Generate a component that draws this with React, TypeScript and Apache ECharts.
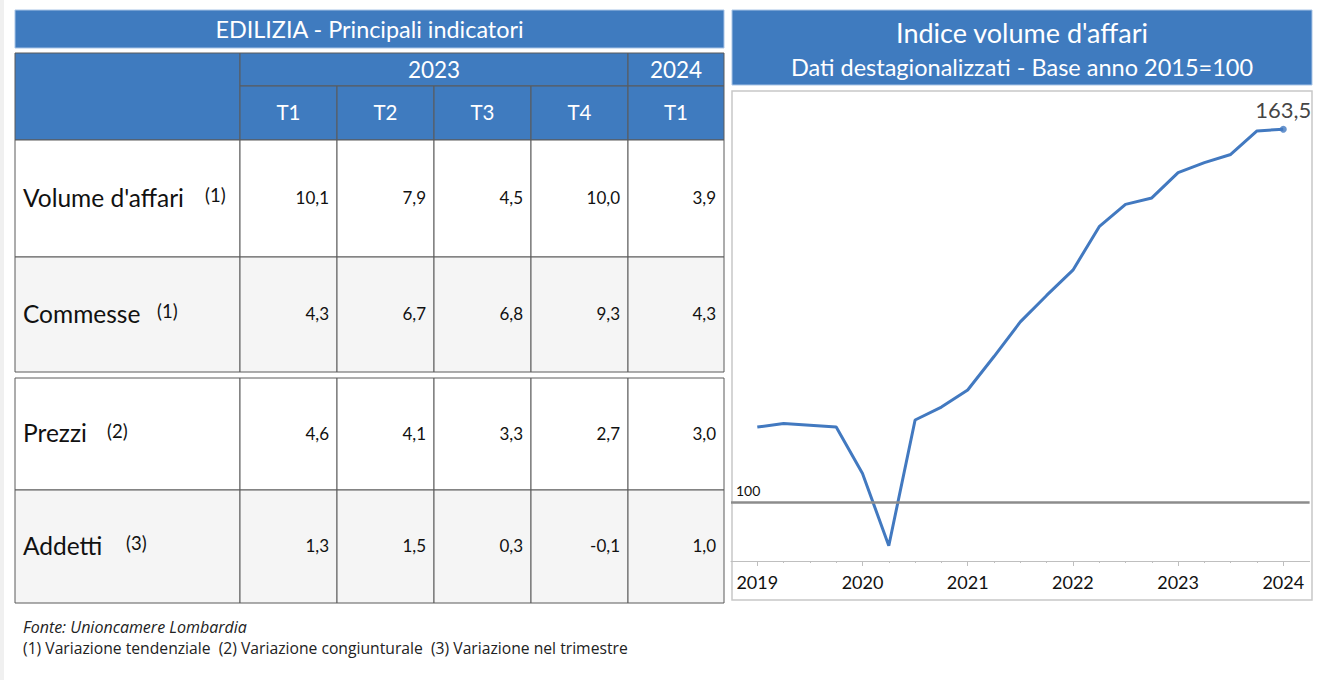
import React, { useEffect, useRef } from "react";
import * as echarts from "echarts";

// ---------- data ----------
const tableTitle = "EDILIZIA - Principali indicatori";
const yearHeaders = ["2023", "2024"];
const quarterHeaders = ["T1", "T2", "T3", "T4", "T1"];
const rowLabels = ["Volume d'affari", "Commesse", "Prezzi", "Addetti"];
const rowNotes = ["(1)", "(1)", "(2)", "(3)"];
const volumeAffari = [10.1, 7.9, 4.5, 10.0, 3.9];
const commesse = [4.3, 6.7, 6.8, 9.3, 4.3];
const prezzi = [4.6, 4.1, 3.3, 2.7, 3.0];
const addetti = [1.3, 1.5, 0.3, -0.1, 1.0];
const footSource = "Fonte: Unioncamere Lombardia";
const footNotes =
  "(1) Variazione tendenziale  (2) Variazione congiunturale  (3) Variazione nel trimestre";

const chartTitle = "Indice volume d'affari";
const chartSubtitle = "Dati destagionalizzati - Base anno 2015=100";
const yearTicks = ["2019", "2020", "2021", "2022", "2023", "2024"];
// quarterly index, 2019 T1 .. 2024 T1
const indexValues = [
  112.8, 113.4, 113.1, 112.8, 104.9, 92.6, 114.0, 116.2, 119.1, 124.8, 130.7,
  135.2, 139.5, 146.9, 150.7, 151.8, 156.1, 157.8, 159.2, 163.2, 163.5,
];
const baseValue = 100;

// ---------- layout ----------
const FONT = "Lato, 'Noto Sans', sans-serif";
const FONT2 = "'Open Sans', 'Noto Sans', sans-serif";
const BLUE = "#3f7bbf";
const GRID_LINE = "#5a5a5a";
const colX = [240, 337, 434, 531, 628, 724];
const tableLeft = 15;
const rowsY = [
  [140, 257],
  [257, 372],
  [378, 490],
  [490, 603],
];
const rowFill = ["#ffffff", "#f5f5f5", "#ffffff", "#f5f5f5"];
const noteX = [205, 157, 107, 126];

const fmt = (v: number) => v.toFixed(1).replace(".", ",");

function rect(x: number, y: number, w: number, h: number, fill: string, stroke: string | null, lw = 1) {
  return {
    type: "rect",
    silent: true,
    z: 0,
    shape: { x, y, width: w, height: h },
    style: { fill, stroke: stroke || undefined, lineWidth: stroke ? lw : 0 },
  };
}
function text(x: number, y: number, t: string, size: number, color: string, align = "left", extra: any = {}) {
  return {
    type: "text",
    silent: true,
    z: 1,
    x,
    y,
    style: {
      text: t,
      fill: color,
      fontSize: size,
      fontFamily: FONT,
      align,
      verticalAlign: "middle",
      ...extra,
    },
  };
}

function buildGraphic() {
  const g: any[] = [];
  const tableRight = colX[colX.length - 1];
  // left page strip
  g.push(rect(0, 0, 4, 680, "#f0f0f0", null));
  // table title
  g.push(rect(tableLeft, 10, tableRight - tableLeft, 38, BLUE, "#a9c5e6", 1));
  g.push(text((tableLeft + tableRight) / 2, 29, tableTitle, 23.4, "#ffffff", "center"));
  // header
  g.push(rect(tableLeft, 53, colX[0] - tableLeft, 87, BLUE, GRID_LINE, 1));
  g.push(rect(colX[0], 53, colX[4] - colX[0], 33, BLUE, GRID_LINE, 1));
  g.push(rect(colX[4], 53, colX[5] - colX[4], 33, BLUE, GRID_LINE, 1));
  g.push(text((colX[0] + colX[4]) / 2, 69.5, yearHeaders[0], 22.5, "#ffffff", "center"));
  g.push(text((colX[4] + colX[5]) / 2, 69.5, yearHeaders[1], 22.5, "#ffffff", "center"));
  quarterHeaders.forEach((q, i) => {
    g.push(rect(colX[i], 86, colX[i + 1] - colX[i], 54, BLUE, GRID_LINE, 1));
    g.push(text((colX[i] + colX[i + 1]) / 2, 112, q, 20.5, "#ffffff", "center"));
  });
  // body
  const rows = [volumeAffari, commesse, prezzi, addetti];
  rows.forEach((vals, r) => {
    const [y0, y1] = rowsY[r];
    const cy = (y0 + y1) / 2 - 1.5;
    g.push(rect(tableLeft, y0, colX[0] - tableLeft, y1 - y0, rowFill[r], GRID_LINE, 1));
    g.push(text(23, cy, rowLabels[r], 24.5, "#111111", "left"));
    g.push(text(noteX[r], cy - 2, rowNotes[r], 18.5, "#111111", "left"));
    vals.forEach((v, c) => {
      g.push(rect(colX[c], y0, colX[c + 1] - colX[c], y1 - y0, rowFill[r], GRID_LINE, 1));
      g.push(text(colX[c + 1] - 8, cy + 0.5, fmt(v), 17, "#111111", "right"));
    });
  });
  // footnotes
  g.push(text(23, 627, footSource, 16, "#222222", "left", { fontStyle: "italic", fontFamily: FONT2 }));
  g.push(text(23, 648, footNotes, 15.7, "#222222", "left", { fontFamily: FONT2 }));

  // right panel title
  g.push(rect(732, 10, 580, 75, BLUE, "#a9c5e6", 1));
  g.push(text(1022, 32, chartTitle, 27, "#ffffff", "center"));
  g.push(text(1022, 67, chartSubtitle, 23.5, "#ffffff", "center"));
  // chart box
  g.push(rect(732, 91, 580, 509, "#ffffff", "#c8c8c8", 1.5));
  return g;
}

export default function App() {
  const ref = useRef<HTMLDivElement>(null);
  useEffect(() => {
    if (!ref.current) return;
    const chart = echarts.init(ref.current, undefined, { renderer: "svg" });
    const lastIdx = indexValues.length - 1;
    const yearPos = yearTicks.map((_, i) => i * 4);
    const quarterPos = indexValues.map((_, i) => i);
    const option: any = {
      animation: false,
      backgroundColor: "#ffffff",
      textStyle: { fontFamily: FONT },
      graphic: { elements: buildGraphic() },
      grid: { left: 731, top: 91, width: 578.6, height: 470 },
      xAxis: [
        {
          type: "value",
          position: "bottom",
          min: -1,
          max: 21,
          axisLine: { show: true, lineStyle: { color: "#bfbfbf", width: 1 } },
          axisTick: { show: true, customValues: yearPos, length: 5, lineStyle: { color: "#bfbfbf" } },
          axisLabel: {
            show: true,
            customValues: yearPos,
            formatter: (v: number) => yearTicks[Math.round(v / 4)] ?? "",
            fontSize: 18,
            color: "#111111",
            fontFamily: FONT,
            margin: 12,
          },
          splitLine: { show: false },
        },
        {
          type: "value",
          position: "bottom",
          min: -1,
          max: 21,
          axisLine: { show: false },
          axisTick: { show: true, customValues: quarterPos, length: 2, lineStyle: { color: "#bfbfbf" } },
          axisLabel: { show: false },
          splitLine: { show: false },
        },
      ],
      yAxis: { type: "value", min: 90, max: 170, show: false },
      series: [
        {
          type: "line",
          xAxisIndex: 0,
          data: indexValues.map((v, i) => [i, v]),
          showSymbol: false,
          symbol: "none",
          lineStyle: { color: "#4279c0", width: 3 },
          z: 3,
          markLine: {
            silent: true,
            symbol: "none",
            data: [{ yAxis: baseValue }],
            lineStyle: { color: "#8c8c8c", width: 2.5, type: "solid" },
            label: {
              show: true,
              position: "insideStartTop",
              formatter: String(baseValue),
              fontSize: 14,
              color: "#111111",
              fontFamily: FONT,
            },
          },
        },
        {
          type: "scatter",
          xAxisIndex: 0,
          data: [[lastIdx, indexValues[lastIdx]]],
          symbol: "circle",
          symbolSize: 7,
          itemStyle: { color: "#4279c0" },
          z: 4,
          label: {
            show: true,
            position: "top",
            distance: 5,
            formatter: (p: any) => fmt(p.value[1]),
            fontSize: 22,
            color: "#111111",
            fontFamily: FONT,
          },
        },
      ],
    };
    chart.setOption(option);
    return () => chart.dispose();
  }, []);
  return (
    <div
      ref={ref}
      style={{ position: "fixed", left: 0, top: 0, width: 1317, height: 680 }}
    />
  );
}
